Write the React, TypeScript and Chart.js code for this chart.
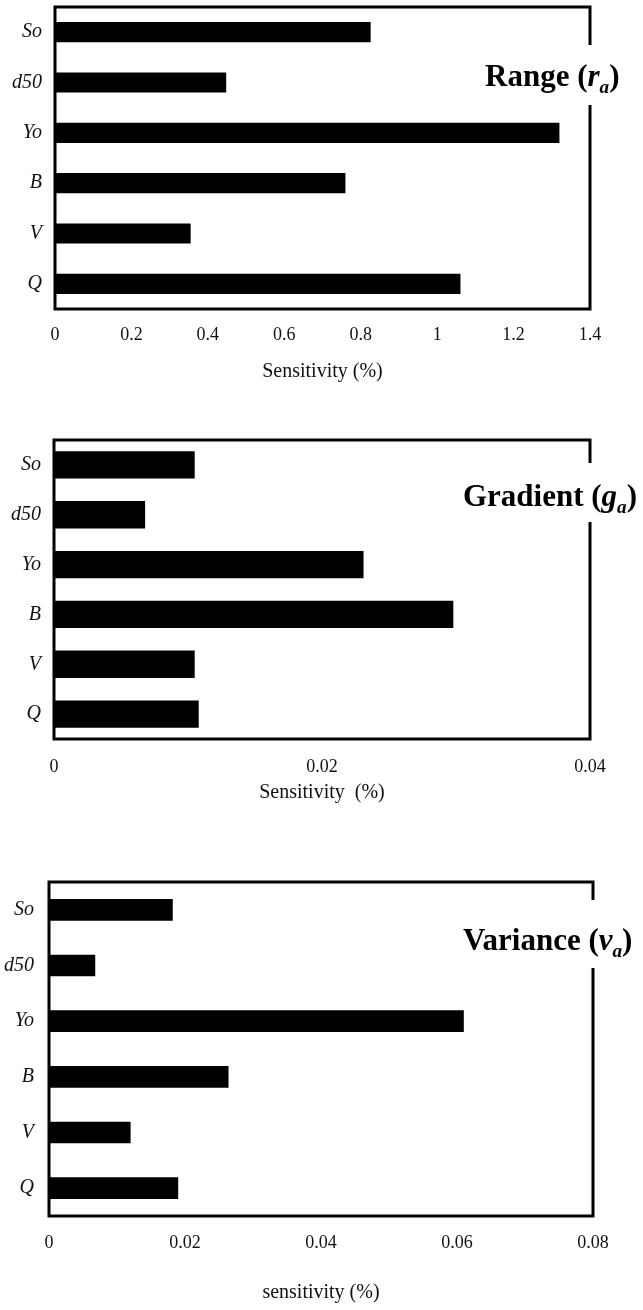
import React, { useEffect, useRef } from 'react';
import { Chart, registerables } from 'chart.js';

Chart.register(...registerables);

const categories = ['So', 'd50', 'Yo', 'B', 'V', 'Q'];

const rangeValues = [0.826, 0.448, 1.32, 0.76, 0.355, 1.061];
const gradientValues = [0.0105, 0.0068, 0.0231, 0.0298, 0.0105, 0.0108];
const varianceValues = [0.0182, 0.0068, 0.061, 0.0264, 0.012, 0.019];

const rangeTicks = [0, 0.2, 0.4, 0.6, 0.8, 1, 1.2, 1.4];
const rangeTickLabels = ['0', '0.2', '0.4', '0.6', '0.8', '1', '1.2', '1.4'];
const gradientTicks = [0, 0.02, 0.04];
const gradientTickLabels = ['0', '0.02', '0.04'];
const varianceTicks = [0, 0.02, 0.04, 0.06, 0.08];
const varianceTickLabels = ['0', '0.02', '0.04', '0.06', '0.08'];

const rangeAxisTitle = 'Sensitivity (%)';
const gradientAxisTitle = 'Sensitivity  (%)';
const varianceAxisTitle = 'sensitivity (%)';

const rangeTitle = [
  { text: 'Range (', style: 'bold', sub: false },
  { text: 'r', style: 'italic bold', sub: false },
  { text: 'a', style: 'italic bold', sub: true },
  { text: ')', style: 'bold', sub: false },
];
const gradientTitle = [
  { text: 'Gradient (', style: 'bold', sub: false },
  { text: 'g', style: 'italic bold', sub: false },
  { text: 'a', style: 'italic bold', sub: true },
  { text: ')', style: 'bold', sub: false },
];
const varianceTitle = [
  { text: 'Variance (', style: 'bold', sub: false },
  { text: 'v', style: 'italic bold', sub: false },
  { text: 'a', style: 'italic bold', sub: true },
  { text: ')', style: 'bold', sub: false },
];

const FONT = '"Liberation Serif", "Times New Roman", serif';

const framePlugin = {
  id: 'frameTitle',
  afterDraw(chart: any, _args: any, opts: any) {
    const { ctx, chartArea: ca } = chart;
    ctx.save();
    ctx.strokeStyle = '#000';
    ctx.lineWidth = 3;
    ctx.lineJoin = 'miter';
    ctx.beginPath();
    ctx.moveTo(ca.right, ca.top + opts.gapTop);
    ctx.lineTo(ca.right, ca.top);
    ctx.lineTo(ca.left, ca.top);
    ctx.lineTo(ca.left, ca.bottom);
    ctx.lineTo(ca.right, ca.bottom);
    ctx.lineTo(ca.right, ca.top + opts.gapBottom);
    ctx.stroke();

    let x = opts.x;
    const y = ca.top + opts.baseline;
    ctx.fillStyle = '#000';
    ctx.textBaseline = 'alphabetic';
    ctx.textAlign = 'left';
    for (const p of opts.parts) {
      const size = p.sub ? opts.size * 0.62 : opts.size;
      ctx.font = `${p.style} ${size}px ${FONT}`;
      ctx.fillText(p.text, x, y + (p.sub ? size * 0.35 : 0));
      x += ctx.measureText(p.text).width;
    }
    ctx.restore();
  },
};

type PanelCfg = {
  top: number;
  height: number;
  left: number;
  right: number;
  padTop: number;
  axisHeight: number;
  tickPad: number;
  yTickPad: number;
  titlePad: number;
  barPct: number;
  values: number[];
  ticks: number[];
  tickLabels: string[];
  axisTitle: string;
  title: { text: string; style: string; sub: boolean }[];
  titleX: number;
  baseline: number;
  gapTop: number;
  gapBottom: number;
};

function Panel({ cfg }: { cfg: PanelCfg }) {
  const ref = useRef<HTMLCanvasElement | null>(null);
  useEffect(() => {
    if (!ref.current) return;
    const chart = new Chart(ref.current, {
      type: 'bar',
      data: {
        labels: categories,
        datasets: [
          {
            data: cfg.values,
            backgroundColor: '#000',
            borderWidth: 0,
            barPercentage: cfg.barPct,
            categoryPercentage: 1,
          },
        ],
      },
      plugins: [framePlugin],
      options: {
        indexAxis: 'y',
        animation: false,
        responsive: false,
        devicePixelRatio: 1,
        layout: {
          padding: { top: cfg.padTop, left: 0, right: 643 - cfg.right, bottom: 0 },
        },
        plugins: {
          legend: { display: false },
          tooltip: { enabled: false },
          frameTitle: {
            parts: cfg.title,
            x: cfg.titleX,
            baseline: cfg.baseline,
            size: 31,
            gapTop: cfg.gapTop,
            gapBottom: cfg.gapBottom,
          },
        } as any,
        scales: {
          x: {
            type: 'linear',
            min: 0,
            max: cfg.ticks[cfg.ticks.length - 1],
            afterBuildTicks: (scale: any) => {
              scale.ticks = cfg.ticks.map((v) => ({ value: v }));
            },
            afterFit: (scale: any) => {
              scale.height = cfg.axisHeight;
              scale.paddingLeft = 0;
              scale.paddingRight = 0;
            },
            grid: { display: false, drawTicks: false },
            border: { display: false },
            ticks: {
              padding: cfg.tickPad,
              color: '#111',
              font: { family: FONT, size: 18 },
              maxRotation: 0,
              autoSkip: false,
              callback: (value: any) => {
                const i = cfg.ticks.findIndex((t) => Math.abs(t - Number(value)) < 1e-9);
                return i >= 0 ? cfg.tickLabels[i] : '';
              },
            },
            title: {
              display: true,
              text: cfg.axisTitle,
              color: '#111',
              font: { family: FONT, size: 20 },
              padding: { top: 0, bottom: cfg.titlePad },
            },
          },
          y: {
            type: 'category',
            afterFit: (scale: any) => {
              scale.width = cfg.left;
              scale.paddingTop = 0;
              scale.paddingBottom = 0;
            },
            grid: { display: false, drawTicks: false },
            border: { display: false },
            ticks: {
              padding: cfg.yTickPad,
              color: '#111',
              font: { family: FONT, size: 20, style: 'italic' },
            },
          },
        },
      } as any,
    });
    return () => chart.destroy();
  }, [cfg]);
  return (
    <canvas
      ref={ref}
      width={643}
      height={cfg.height}
      style={{ position: 'absolute', left: 0, top: cfg.top, width: 643, height: cfg.height }}
    />
  );
}

const panels: PanelCfg[] = [
  {
    top: 0, height: 390, left: 55, right: 590, padTop: 7, axisHeight: 81,
    tickPad: 15, yTickPad: 13, titlePad: 6, barPct: 0.4,
    values: rangeValues, ticks: rangeTicks, tickLabels: rangeTickLabels,
    axisTitle: rangeAxisTitle, title: rangeTitle, titleX: 485, baseline: 79,
    gapTop: 38, gapBottom: 98,
  },
  {
    top: 420, height: 400, left: 54, right: 590, padTop: 20, axisHeight: 81,
    tickPad: 17, yTickPad: 13, titlePad: 15, barPct: 0.55,
    values: gradientValues, ticks: gradientTicks, tickLabels: gradientTickLabels,
    axisTitle: gradientAxisTitle, title: gradientTitle, titleX: 463, baseline: 66,
    gapTop: 23, gapBottom: 82,
  },
  {
    top: 860, height: 450, left: 49, right: 593, padTop: 22, axisHeight: 94,
    tickPad: 16, yTickPad: 15, titlePad: 5, barPct: 0.39,
    values: varianceValues, ticks: varianceTicks, tickLabels: varianceTickLabels,
    axisTitle: varianceAxisTitle, title: varianceTitle, titleX: 463, baseline: 68,
    gapTop: 18, gapBottom: 86,
  },
];

export default function App() {
  return (
    <div style={{ position: 'absolute', left: 0, top: 0, width: 643, height: 1310, background: '#fff' }}>
      {panels.map((p, i) => (
        <Panel key={i} cfg={p} />
      ))}
    </div>
  );
}
